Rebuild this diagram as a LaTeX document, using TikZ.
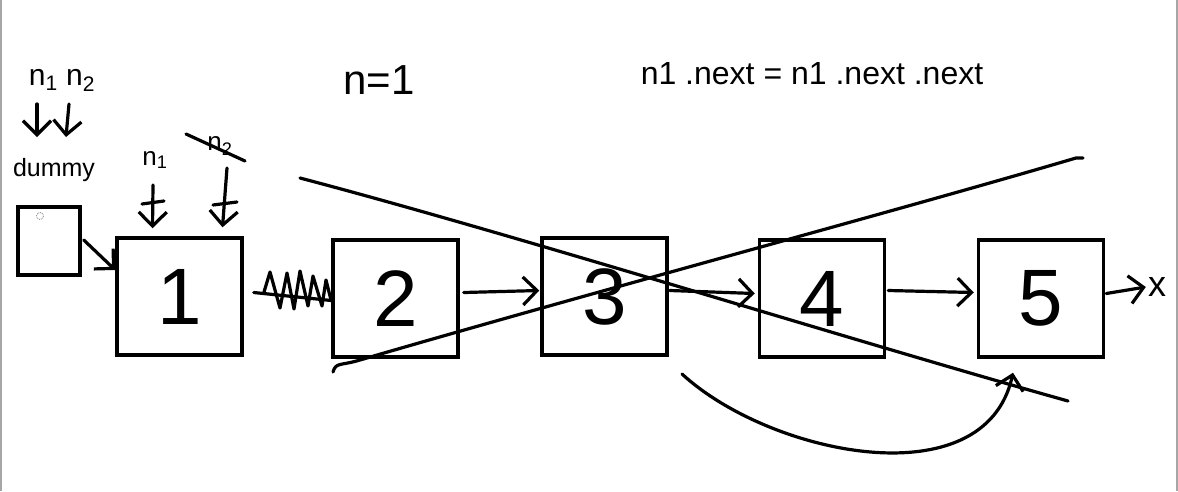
\documentclass[tikz,border=0pt]{standalone}
\usepackage{fontspec}
\setmainfont{Liberation Sans}
\usetikzlibrary{arrows.meta,calc}
\begin{document}
\begin{tikzpicture}[x=1pt,y=-1pt,
  box/.style={draw,line width=3.5pt,minimum width=125pt,minimum height=117pt,inner sep=0pt,font=\fontsize{80}{80}\selectfont},
  stroke/.style={line width=3.2pt,line cap=round,line join=round},
  conn/.style={stroke,-{Straight Barb[length=14pt,width=28pt,line width=3.2pt]}},
  hand/.style={inner sep=0pt,font=\fontsize{#1}{#1}\selectfont},
  hand/.default=22]
\useasboundingbox (0,0) rectangle (1178,491);
\fill[white] (0,0) rectangle (1178,491);
\fill[gray!70] (0,0) rectangle (2,491);
\fill[gray!70] (1176,0) rectangle (1178,491);

% boxes
\node[box,minimum width=62pt,minimum height=68pt] (d) at (49,241) {};
\draw[gray,densely dotted,line width=0.8pt] (40,216) circle (3.5);
\node[box] (b1) at (179.5,296.5) {1};
\node[box] (b2) at (395.5,298.5) {2};
\node[box] (b3) at (604.5,296.5) {3};
\node[box] (b4) at (822,298.5) {4};
\node[box] (b5) at (1041,298.5) {5};
\node[hand=36] (x) at (1157,287) {x};

% connectors
\draw[conn] ([yshift=1pt,xshift=2pt]d.east) -- ($(b1.north west)!0.28!(b1.south west)$);
\draw[conn] ([yshift=6pt,xshift=4pt]b2.east) -- ([yshift=6pt,xshift=-1pt]b3.west);
\draw[conn] ([yshift=6pt,xshift=1pt]b3.east) -- ([yshift=5pt,xshift=-3pt]b4.west);
\draw[conn] ([yshift=8pt,xshift=2pt]b4.east) -- ([yshift=6pt,xshift=-3pt]b5.west);
\draw[conn] ([yshift=5pt,xshift=1pt]b5.east) -- ([xshift=-2pt]x.west);

% scribbled-out arrow between 1 and 2
\draw[stroke] ([xshift=10pt,yshift=4pt]b1.east) -- ([yshift=-2pt]b2.west);
\draw[stroke] (264,292) -- (270,272) -- (280,308) -- (287,273) -- (294,309) -- (300,271)
  -- (308,306) -- (313,276) -- (322,306) -- (326,280) -- (331,300);

% crossing lines
\coordinate (a0) at (300,178);
\coordinate (a1) at (1068,401);
\coordinate (c0) at (333,372);
\coordinate (c1) at (1076,158);
\coordinate (c2) at (1083,158);
\draw[stroke] (a0) .. controls (520,236) and (850,340) .. (a1);
\draw[stroke] (c0) .. controls (336,362) and (340,366) .. (360,360) .. controls (600,290) and (900,210) .. (c1) -- (c2);

% curved arrow 3 -> 5
\coordinate (k0) at (682,374);
\draw[conn] (k0) .. controls (770,455) and (985,500) .. ([xshift=-28pt,yshift=-14pt]b5.south);

% labels at top left
\node[hand=30] (n12) at (62,80) {n\textsubscript{1} n\textsubscript{2}};
\node[hand=25] (dm) at (54,170) {dummy};
\draw[conn] (37,104) -- (37,137);
\draw[conn] (69,104) -- (66,137);

% n1 pointer
\node[hand=26] (p1) at (155,160) {n\textsubscript{1}};
\draw[conn] (153,185) -- ([xshift=-27pt,yshift=8pt]b1.north);
\draw[stroke] (142,204) -- (164,201);
% crossed n2 pointer
\node[hand=26] (p2) at (220,146) {n\textsubscript{2}};
\draw[stroke] (186,134) -- (245,161);
\draw[conn] (227,168) -- ([xshift=43pt,yshift=9pt]b1.north);
\draw[stroke] (213,205) -- (237,202);

% top texts
\node[hand=42] (t1) at (379,80) {n=1};
\node[hand=32] (t2) at (812,74) {n1 .next = n1 .next .next};
\end{tikzpicture}
\end{document}
